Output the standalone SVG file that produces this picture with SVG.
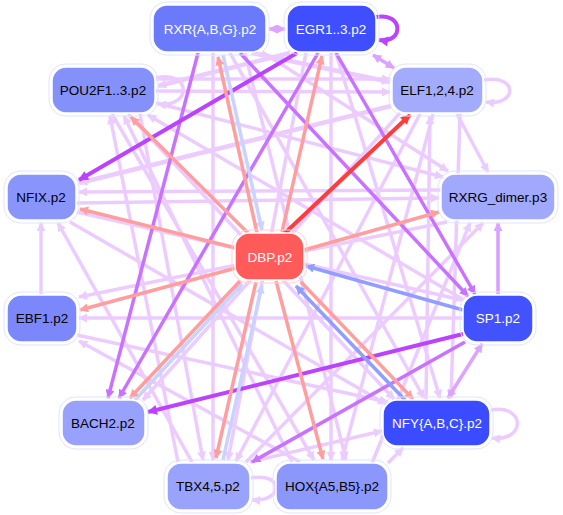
<svg xmlns="http://www.w3.org/2000/svg" width="563" height="515" viewBox="0 0 563 515">
<defs>
<style>
.e{fill:none;stroke-width:3.5}
.lav{stroke:#ecccff;marker-end:url(#m-lav)}
.lavb{stroke:#ecccff;stroke-width:4.5;marker-end:url(#m-lav)}
.mlav{stroke:#dca3ff;marker-end:url(#m-mlav);marker-start:url(#m-mlav)}
.mlav1{stroke:#d99cff;marker-end:url(#m-mlav)}
.pur{stroke:#c872ff;marker-end:url(#m-pur)}
.pb{stroke:#bb42ff;stroke-width:4;marker-end:url(#m-pb)}
.sal{stroke:#ff9e9e;marker-end:url(#m-sal)}
.red{stroke:#ff3c3c;stroke-width:4;marker-end:url(#m-red)}
.lb{stroke:#cad2ff;marker-end:url(#m-lb)}
.blu{stroke:#909eff;marker-end:url(#m-blu)}
.nb{stroke:#ffffff;stroke-width:1.5}
.np{fill:none;stroke:#dfe3ff;stroke-width:1}
.t{font-family:"Liberation Sans",Arial,sans-serif;font-size:13.5px;text-anchor:middle;dominant-baseline:central}
.w{fill:#ffffff}
.k{fill:#000000}
</style>
<marker id="m-lav" viewBox="0 0 10 10" refX="9" refY="5" markerWidth="11" markerHeight="9" markerUnits="userSpaceOnUse" orient="auto-start-reverse"><path d="M0,0L10,5L0,10z" fill="#ecccff"/></marker>
<marker id="m-mlav" viewBox="0 0 10 10" refX="9" refY="5" markerWidth="11" markerHeight="9" markerUnits="userSpaceOnUse" orient="auto-start-reverse"><path d="M0,0L10,5L0,10z" fill="#dca3ff"/></marker>
<marker id="m-pur" viewBox="0 0 10 10" refX="9" refY="5" markerWidth="11" markerHeight="9" markerUnits="userSpaceOnUse" orient="auto"><path d="M0,0L10,5L0,10z" fill="#c872ff"/></marker>
<marker id="m-pb" viewBox="0 0 10 10" refX="9" refY="5" markerWidth="12" markerHeight="10" markerUnits="userSpaceOnUse" orient="auto"><path d="M0,0L10,5L0,10z" fill="#bb42ff"/></marker>
<marker id="m-sal" viewBox="0 0 10 10" refX="9" refY="5" markerWidth="11" markerHeight="9" markerUnits="userSpaceOnUse" orient="auto"><path d="M0,0L10,5L0,10z" fill="#ff9e9e"/></marker>
<marker id="m-red" viewBox="0 0 10 10" refX="9" refY="5" markerWidth="12" markerHeight="10" markerUnits="userSpaceOnUse" orient="auto"><path d="M0,0L10,5L0,10z" fill="#ff3c3c"/></marker>
<marker id="m-lb" viewBox="0 0 10 10" refX="9" refY="5" markerWidth="11" markerHeight="9" markerUnits="userSpaceOnUse" orient="auto"><path d="M0,0L10,5L0,10z" fill="#cad2ff"/></marker>
<marker id="m-blu" viewBox="0 0 10 10" refX="9" refY="5" markerWidth="11" markerHeight="9" markerUnits="userSpaceOnUse" orient="auto"><path d="M0,0L10,5L0,10z" fill="#909eff"/></marker>
</defs>
<rect width="563" height="515" fill="#ffffff"/>
<g id="edges">
<!-- lavender -->
<path class="e lav" d="M156,78 C192,70 192,108 158,104"/>
<path class="e lav" d="M484,80 C518,74 518,106 486,102"/>
<path class="e lav" d="M491,410 C526,404 526,442 492,438"/>
<path class="e lav" d="M251,478 C284,472 284,502 252,500"/>
<path class="e lav" d="M457,114 L488,172"/>
<path class="e lavb" d="M252,53 L390,82"/>
<path class="e lav" d="M156,91 L390,92"/>
<path class="e lav" d="M156,79 L390,79"/>
<path class="e lavb" d="M391,106 L79,183"/>
<path class="e lavb" d="M290,53 L158,86"/>
<path class="e lav" d="M441,190 L79,192"/>
<path class="e lav" d="M77,203 L439,198"/>
<path class="e lav" d="M41,295 L41,223"/>
<path class="e lav" d="M192,462 L58,223"/>
<path class="e lav" d="M178,462 L110,116"/>
<path class="e lav" d="M292,462 L124,116"/>
<path class="e lav" d="M128,114 L394,399"/>
<path class="e lav" d="M464,300 L148,115"/>
<path class="e lav" d="M230,53 L424,398"/>
<path class="e lav" d="M336,53 L440,398"/>
<path class="e lav" d="M460,114 L451,398"/>
<path class="e lav" d="M426,400 L430,116"/>
<path class="e lav" d="M433,114 L342,460"/>
<path class="e lav" d="M213,53 L213,460"/>
<path class="e lav" d="M331,53 L331,460"/>
<path class="e lav" d="M245,53 L346,460"/>
<path class="e lav" d="M306,53 L228,460"/>
<path class="e lav" d="M140,114 L203,460"/>
<path class="e lav" d="M112,114 L314,460"/>
<path class="e lav" d="M420,114 L236,461"/>
<path class="e lav" d="M400,113 L143,400"/>
<path class="e lav" d="M372,463 L470,223"/>
<path class="e lav" d="M246,462 L483,223"/>
<path class="e lav" d="M250,462 L382,431"/>
<path class="e lav" d="M388,463 L403,448"/>
<path class="e lav" d="M300,462 L79,341"/>
<path class="e lav" d="M447,222 L79,297"/>
<path class="e lav" d="M463,318 L79,318"/>
<path class="e lav" d="M70,222 L386,404"/>
<path class="e lav" d="M77,212 L462,300"/>
<path class="e lav" d="M262,52 L448,171"/>
<path class="e lav" d="M156,103 L443,177"/>
<path class="e lav" d="M77,335 L388,402"/>
<!-- medium lavender / purple -->
<path class="e mlav" d="M269,29 L285,29"/>
<path class="e mlav" d="M373,55 L394,68"/>
<path class="e mlav" d="M482,344 L448,398"/>
<path class="e mlav1" d="M498,294 L498,223"/>
<path class="e pur" d="M198,53 L108,398"/>
<path class="e pur" d="M318,53 L119,398"/>
<path class="e pur" d="M465,342 L252,462"/>
<path class="e pur" d="M336,53 L475,294"/>
<path class="e pur" d="M240,53 L468,296"/>
<path class="e pb" d="M376,17 C404,12 404,44 379,40"/>
<path class="e pb" d="M297,53 L79,180"/>
<path class="e pb" d="M463,334 L148,412"/>
<!-- DBP related -->
<path class="e lb" d="M223,55 L262,230"/>
<path class="e sal" d="M257,233 L218,57"/>
<path class="e sal" d="M282,232 L322,56"/>
<path class="e sal" d="M236,248 L80,209"/>
<path class="e sal" d="M236,268 L80,310"/>
<path class="e sal" d="M304,250 L439,212"/>
<path class="e sal" d="M248,233 L131,117"/>
<path class="e sal" d="M276,281 L323,459"/>
<path class="e lb" d="M223,460 L262,285"/>
<path class="e sal" d="M256,282 L216,458"/>
<path class="e lb" d="M135,400 L242,284"/>
<path class="e sal" d="M240,281 L130,398"/>
<path class="e sal" d="M301,282 L413,399"/>
<path class="e blu" d="M405,400 L296,286"/>
<path class="e blu" d="M463,310 L306,266"/>
<path class="e red" d="M285,233 L410,115"/>
</g>
<g id="n-rxr"><rect class="np" x="150" y="2" width="119" height="53" rx="17"/><rect class="nb" x="153" y="5" width="113" height="47" rx="14" fill="#6b79fb"/><text class="t w" x="210" y="29">RXR{A,B,G}.p2</text></g>
<g id="n-egr"><rect class="np" x="284" y="2" width="95" height="53" rx="17"/><rect class="nb" x="287" y="5" width="89" height="47" rx="14" fill="#3f4eff"/><text class="t w" x="331" y="29">EGR1..3.p2</text></g>
<g id="n-pou"><rect class="np" x="49" y="64" width="109" height="52" rx="17"/><rect class="nb" x="52" y="67" width="103" height="46" rx="14" fill="#8591fb"/><text class="t k" x="103" y="90">POU2F1..3.p2</text></g>
<g id="n-elf"><rect class="np" x="389" y="64" width="97" height="52" rx="17"/><rect class="nb" x="392" y="67" width="91" height="46" rx="14" fill="#a3abfc"/><text class="t k" x="437" y="90">ELF1,2,4.p2</text></g>
<g id="n-nfix"><rect class="np" x="4" y="171" width="75" height="52" rx="17"/><rect class="nb" x="7" y="174" width="69" height="46" rx="14" fill="#8a95fb"/><text class="t k" x="41" y="197">NFIX.p2</text></g>
<g id="n-rxrg"><rect class="np" x="438" y="171" width="120" height="52" rx="17"/><rect class="nb" x="441" y="174" width="114" height="46" rx="14" fill="#a0a9fb"/><text class="t k" x="498" y="197">RXRG_dimer.p3</text></g>
<g id="n-dbp"><rect class="np" x="232" y="230" width="75" height="53" rx="17" style="stroke:#ffd0d0"/><rect class="nb" x="235" y="233" width="69" height="47" rx="14" fill="#ff5b5b"/><text class="t w" x="270" y="257">DBP.p2</text></g>
<g id="n-ebf1"><rect class="np" x="4" y="292" width="76" height="53" rx="17"/><rect class="nb" x="7" y="295" width="70" height="47" rx="14" fill="#7b87fb"/><text class="t k" x="42" y="318">EBF1.p2</text></g>
<g id="n-sp1"><rect class="np" x="460" y="292" width="76" height="53" rx="17"/><rect class="nb" x="463" y="295" width="70" height="47" rx="14" fill="#4252ff"/><text class="t w" x="498" y="318">SP1.p2</text></g>
<g id="n-bach2"><rect class="np" x="59" y="397" width="89" height="52" rx="17"/><rect class="nb" x="62" y="400" width="83" height="46" rx="14" fill="#98a1fb"/><text class="t k" x="103" y="423">BACH2.p2</text></g>
<g id="n-nfy"><rect class="np" x="380" y="397" width="113" height="52" rx="17"/><rect class="nb" x="383" y="400" width="107" height="46" rx="14" fill="#3b4bff"/><text class="t w" x="437" y="423">NFY{A,B,C}.p2</text></g>
<g id="n-tbx"><rect class="np" x="164" y="460" width="89" height="53" rx="17"/><rect class="nb" x="167" y="463" width="83" height="47" rx="14" fill="#9aa3fb"/><text class="t k" x="208" y="486">TBX4,5.p2</text></g>
<g id="n-hox"><rect class="np" x="273" y="460" width="118" height="53" rx="17"/><rect class="nb" x="276" y="463" width="112" height="47" rx="14" fill="#8c97fb"/><text class="t k" x="332" y="486">HOX{A5,B5}.p2</text></g>
</svg>
